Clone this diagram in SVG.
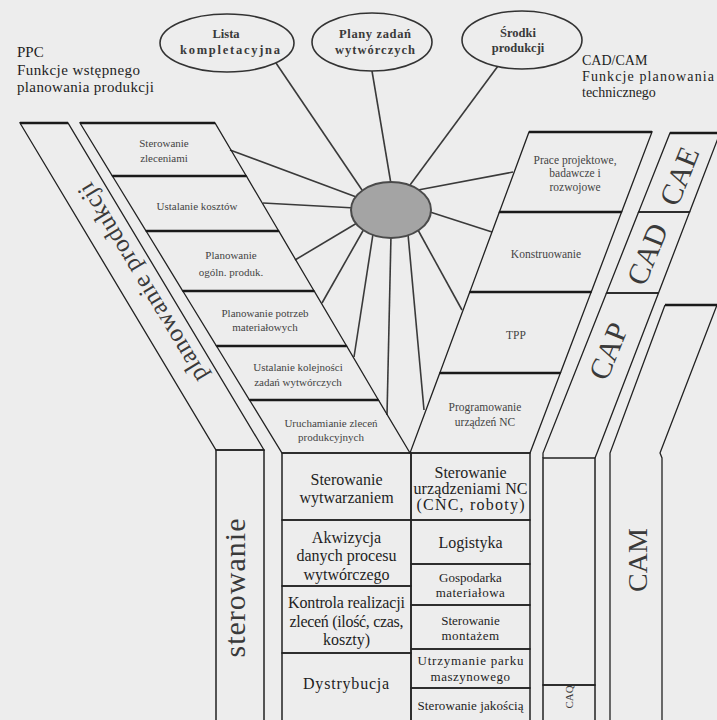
<svg xmlns="http://www.w3.org/2000/svg" width="717" height="720" viewBox="0 0 717 720">
<style>
.bg{fill:#ededed}
.e{fill:#ededed;stroke:#333;stroke-width:1.6}
.hub{fill:#a4a4a4;stroke:#4a4a4a;stroke-width:2}
.bx{fill:none;stroke:#222;stroke-width:1.3}
.dv{stroke:#1a1a1a;stroke-width:2.6}
.tl{fill:none;stroke:#222;stroke-width:1.5}
.sp line{stroke:#3a3a3a;stroke-width:1.6}
text{font-family:"Liberation Serif","Times New Roman",serif;fill:#1e1e1e}
.c{text-anchor:middle}
.el{font-size:12.5px;fill:#3a3a3a;font-weight:bold}
.hd{font-size:15px}
.hr{font-size:14px}
.sm{font-size:11px;fill:#444}
.sr{font-size:11.5px;fill:#444}
.tb{font-size:16px}
.ts{font-size:13px}
.big{fill:#3a3a3a}
</style>
<rect class="bg" x="0" y="0" width="717" height="720"/>

<g id="hdr-ppc">
<text class="hd" x="17" y="57">PPC</text>
<text class="hd" x="17" y="75" textLength="123">Funkcje wstępnego</text>
<text class="hd" x="17" y="92" textLength="137">planowania produkcji</text>
</g>
<g id="hdr-cadcam">
<text class="hr" x="582" y="65">CAD/CAM</text>
<text class="hr" x="582" y="81" textLength="132">Funkcje planowania</text>
<text class="hr" x="582" y="97">technicznego</text>
</g>

<g id="connectors" class="sp">
<line x1="276" y1="63" x2="362" y2="190"/>
<line x1="372" y1="71" x2="391" y2="184"/>
<line x1="498" y1="66" x2="410" y2="185"/>
<line x1="418" y1="190" x2="513" y2="172"/>
<line x1="430" y1="212" x2="492" y2="232"/>
<line x1="418" y1="230" x2="462" y2="310"/>
<line x1="408" y1="234" x2="424" y2="410"/>
<line x1="391" y1="235" x2="387" y2="415"/>
<line x1="373" y1="234" x2="354" y2="357"/>
<line x1="364" y1="229" x2="322" y2="303"/>
<line x1="357" y1="223" x2="295" y2="260"/>
<line x1="355" y1="208" x2="263" y2="203"/>
<line x1="359" y1="198" x2="230" y2="150"/>
</g>

<g id="lista">
<ellipse class="e" cx="227" cy="43" rx="67" ry="29"/>
<text class="el c" x="226" y="38">Lista</text>
<text class="el c" x="230" y="54" textLength="100">kompletacyjna</text>
</g>
<g id="plany">
<ellipse class="e" cx="372" cy="42" rx="60" ry="29"/>
<text class="el c" x="375" y="38" textLength="72">Plany zadań</text>
<text class="el c" x="375" y="54" textLength="80">wytwórczych</text>
</g>
<g id="srodki">
<ellipse class="e" cx="522" cy="40" rx="60" ry="29"/>
<text class="el c" x="518" y="37" font-size="11">Środki</text>
<text class="el c" x="518" y="52" font-size="11">produkcji</text>
</g>

<g id="hub">
<ellipse class="hub" cx="391" cy="210" rx="40" ry="28"/>
</g>

<g id="band-planowanie">
<polygon class="bx" points="20,123 68,123 264,450 216,450"/>
<line class="dv" x1="20" y1="123" x2="68" y2="123"/>
<text class="big c" font-size="25" dominant-baseline="central" textLength="228" transform="translate(142,283) rotate(-121)">planowanie produkcji</text>
</g>

<g id="l1">
<polygon class="bx" points="80,123 215,123 246.3,176 112.4,176"/>
<line class="dv" x1="80" y1="123" x2="215" y2="123"/>
<text class="sm c" x="164" y="146.5">Sterowanie</text>
<text class="sm c" x="164" y="161.5">zleceniami</text>
</g>
<g id="l2">
<polygon class="bx" points="112.4,176 246.3,176 278.7,231 146.1,231"/>
<line class="dv" x1="112.4" y1="176" x2="246.3" y2="176"/>
<text class="sm c" x="197" y="209.5">Ustalanie kosztów</text>
</g>
<g id="l3">
<polygon class="bx" points="146.1,231 278.7,231 314.1,291 182.8,291"/>
<line class="dv" x1="146.1" y1="231" x2="278.7" y2="231"/>
<text class="sm c" x="231" y="258.5">Planowanie</text>
<text class="sm c" x="231" y="275.5">ogóln. produk.</text>
</g>
<g id="l4">
<polygon class="bx" points="182.8,291 314.1,291 346.6,346 216.5,346"/>
<line class="dv" x1="182.8" y1="291" x2="314.1" y2="291"/>
<text class="sm c" x="265" y="316.5">Planowanie potrzeb</text>
<text class="sm c" x="265" y="330.5">materiałowych</text>
</g>
<g id="l5">
<polygon class="bx" points="216.5,346 346.6,346 378.4,400 249.5,400"/>
<line class="dv" x1="216.5" y1="346" x2="346.6" y2="346"/>
<text class="sm c" x="298" y="370.5">Ustalanie kolejności</text>
<text class="sm c" x="298" y="385.5">zadań wytwórczych</text>
</g>
<g id="l6">
<polygon class="bx" points="249.5,400 378.4,400 410,453 282,453"/>
<line class="dv" x1="249.5" y1="400" x2="378.4" y2="400"/>
<text class="sm c" x="331" y="426.5">Uruchamianie zleceń</text>
<text class="sm c" x="331" y="440.5">produkcyjnych</text>
</g>

<g id="r1">
<polygon class="bx" points="529,132 652,132 621.6,212 499.4,212"/>
<line class="dv" x1="529" y1="132" x2="652" y2="132"/>
<text class="sr c" x="575" y="163.5">Prace projektowe,</text>
<text class="sr c" x="575" y="176.5">badawcze i</text>
<text class="sr c" x="575" y="190.5">rozwojowe</text>
</g>
<g id="r2">
<polygon class="bx" points="499.4,212 621.6,212 591.2,292 469.8,292"/>
<line class="dv" x1="499.4" y1="212" x2="621.6" y2="212"/>
<text class="sr c" x="546" y="258">Konstruowanie</text>
</g>
<g id="r3">
<polygon class="bx" points="469.8,292 591.2,292 560.4,373 439.8,373"/>
<line class="dv" x1="469.8" y1="292" x2="591.2" y2="292"/>
<text class="sr c" x="516" y="339">TPP</text>
</g>
<g id="r4">
<polygon class="bx" points="439.8,373 560.4,373 530,453 410,453"/>
<line class="dv" x1="439.8" y1="373" x2="560.4" y2="373"/>
<text class="sr c" x="485" y="410.5">Programowanie</text>
<text class="sr c" x="485" y="426">urządzeń NC</text>
</g>

<g id="cae">
<polygon class="bx" points="670,133 720,133 689.6,212 638.6,212"/>
<line class="dv" x1="670" y1="133" x2="717" y2="133"/>
<text class="big c" font-size="30" dominant-baseline="central" transform="translate(679,176) rotate(-68)">CAE</text>
</g>
<g id="cad">
<polygon class="bx" points="638.6,212 689.6,212 658.5,293 606.5,293"/>
<line class="tl" x1="606.5" y1="293" x2="658.5" y2="293" stroke-width="2"/>
<text class="big c" font-size="30" dominant-baseline="central" transform="translate(647,254) rotate(-68)">CAD</text>
</g>
<g id="cap">
<path class="bx" d="M606.5 293 L543 453 L543 458 M658.5 293 L597 453 L595 458"/>
<text class="big c" font-size="30" dominant-baseline="central" transform="translate(608,351) rotate(-68)">CAP</text>
</g>
<g id="cap-col">
<rect class="tl" x="543" y="458" width="52" height="227"/>
</g>
<g id="caq">
<rect class="tl" x="543" y="685" width="52" height="40"/>
<text class="big c" font-size="11" dominant-baseline="central" transform="translate(569,697) rotate(-90)">CAQ</text>
</g>
<g id="cam">
<path class="bx" d="M665 305 L610 453 L610 722 M717 305 L660 453 L662 458 L662 722"/>
<line class="dv" x1="665" y1="305" x2="717" y2="305" stroke-width="2"/>
<text class="big c" font-size="28" dominant-baseline="central" transform="translate(637,560) rotate(-90)">CAM</text>
</g>

<g id="sterowanie">
<rect class="tl" x="216" y="450" width="48" height="275"/>
<text class="big c" font-size="30" textLength="139" transform="translate(245,588) rotate(-90)">sterowanie</text>
</g>

<g id="t-wytw">
<rect class="tl" x="282" y="453" width="129" height="67"/>
<text class="tb c" x="346.5" y="485">Sterowanie</text>
<text class="tb c" x="346.5" y="503">wytwarzaniem</text>
</g>
<g id="t-akw">
<rect class="tl" x="282" y="520" width="129" height="66"/>
<text class="tb c" x="346.5" y="543">Akwizycja</text>
<text class="tb c" x="346.5" y="561">danych procesu</text>
<text class="tb c" x="346.5" y="580">wytwórczego</text>
</g>
<g id="t-kontr">
<rect class="tl" x="282" y="586" width="129" height="67"/>
<text class="tb c" x="346.5" y="608" textLength="117">Kontrola realizacji</text>
<text class="tb c" x="346.5" y="627" textLength="114">zleceń (ilość, czas,</text>
<text class="tb c" x="346.5" y="645">koszty)</text>
</g>
<g id="t-dystr">
<rect class="tl" x="282" y="653" width="129" height="72"/>
<text class="tb c" x="346.5" y="689" letter-spacing="0.8">Dystrybucja</text>
</g>

<g id="t-nc">
<rect class="tl" x="411" y="453" width="119" height="67"/>
<text class="tb c" x="470.5" y="478">Sterowanie</text>
<text class="tb c" x="470.5" y="494" textLength="114">urządzeniami NC</text>
<text class="tb c" x="470.5" y="510" textLength="108">(CNC, roboty)</text>
</g>
<g id="t-log">
<rect class="tl" x="411" y="520" width="119" height="44"/>
<text class="tb c" x="470.5" y="548">Logistyka</text>
</g>
<g id="t-gosp">
<rect class="tl" x="411" y="564" width="119" height="41"/>
<text class="ts c" x="470.5" y="582">Gospodarka</text>
<text class="ts c" x="470.5" y="597" letter-spacing="0.5">materiałowa</text>
</g>
<g id="t-mont">
<rect class="tl" x="411" y="605" width="119" height="44"/>
<text class="ts c" x="470.5" y="625">Sterowanie</text>
<text class="ts c" x="470.5" y="640" letter-spacing="0.5">montażem</text>
</g>
<g id="t-utrz">
<rect class="tl" x="411" y="649" width="119" height="39"/>
<text class="ts c" x="470.5" y="665" textLength="106">Utrzymanie parku</text>
<text class="ts c" x="470.5" y="681" letter-spacing="0.5">maszynowego</text>
</g>
<g id="t-jak">
<rect class="tl" x="411" y="688" width="119" height="37"/>
<text class="ts c" x="470.5" y="710" textLength="106">Sterowanie jakością</text>
</g>
</svg>
